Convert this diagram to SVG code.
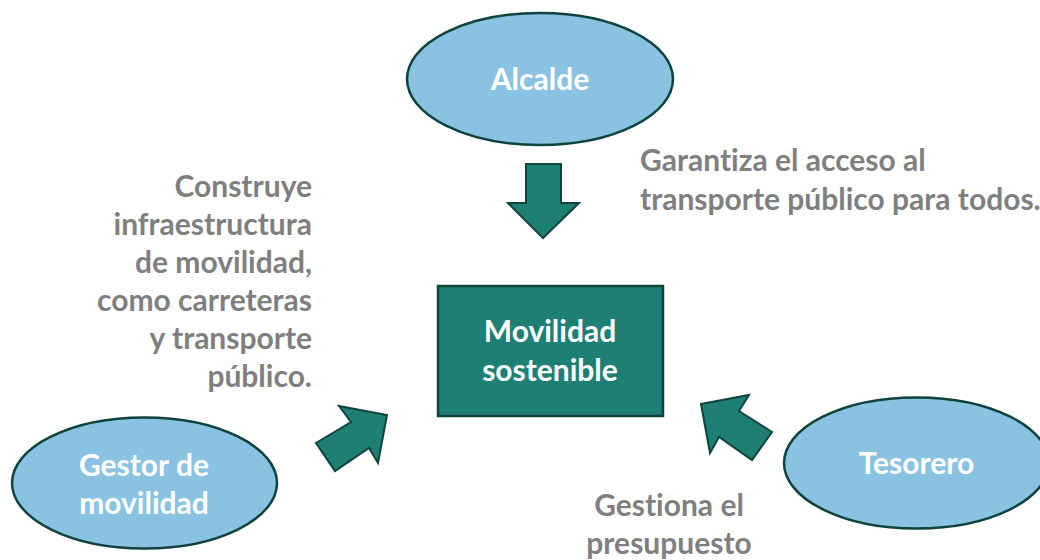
<svg xmlns="http://www.w3.org/2000/svg" width="1040" height="560" viewBox="0 0 1040 560">
<style>
.ell{fill:#89C3E1;stroke:#0F433D;stroke-width:2.5}
.box{fill:#1E7F74;stroke:#0F433D;stroke-width:2.5}
.arr{fill:#1E7F74;stroke:#0F433D;stroke-width:2;stroke-linejoin:miter}
.wt{font-family:Lato,"Open Sans","Liberation Sans",sans-serif;font-weight:700;font-size:30px;fill:#FFFFFF;text-anchor:middle;font-variant-ligatures:none}
.gt{font-family:Lato,"Open Sans","Liberation Sans",sans-serif;font-weight:700;font-size:30px;fill:#7F7F7F;font-variant-ligatures:none}
</style>
<rect width="1040" height="560" fill="#FFFFFF"/>
<g id="alcalde">
<ellipse class="ell" cx="540" cy="79" rx="133" ry="66"/>
<text class="wt" x="540" y="90">Alcalde</text>
</g>
<g id="movilidad">
<rect class="box" x="438" y="286" width="225" height="130"/>
<text class="wt" x="550" y="342">Movilidad</text>
<text class="wt" x="550" y="381">sostenible</text>
</g>
<g id="gestor">
<ellipse class="ell" cx="144.5" cy="483" rx="132.5" ry="65.5"/>
<text class="wt" x="144" y="476">Gestor de</text>
<text class="wt" x="144" y="514">movilidad</text>
</g>
<g id="tesorero">
<ellipse class="ell" cx="916.5" cy="463" rx="132.5" ry="65.5"/>
<text class="wt" x="916.5" y="474">Tesorero</text>
</g>
<g id="connectors">
<polygon class="arr" points="526,164 561,164 561,203 579,203 543,238 508,203 526,203"/>
<polygon class="arr" points="316,443 351,422 339,406 387,415 378,463 369,448 335,471"/>
<polygon class="arr" points="701,404 749,395 739,411 772,432 752,460 719,437 710,453"/>
</g>
<g id="labels">
<text class="gt" x="640" y="171">Garantiza el acceso al</text>
<text class="gt" x="640" y="210">transporte público para todos.</text>
<g text-anchor="end">
<text class="gt" x="312" y="197">Construye</text>
<text class="gt" x="312" y="235">infraestructura</text>
<text class="gt" x="312" y="273">de movilidad,</text>
<text class="gt" x="312" y="311">como carreteras</text>
<text class="gt" x="312" y="349">y transporte</text>
<text class="gt" x="312" y="387">público.</text>
</g>
<text class="gt" x="669" y="516" text-anchor="middle">Gestiona el</text>
<text class="gt" x="669" y="554" text-anchor="middle">presupuesto</text>
</g>
</svg>
